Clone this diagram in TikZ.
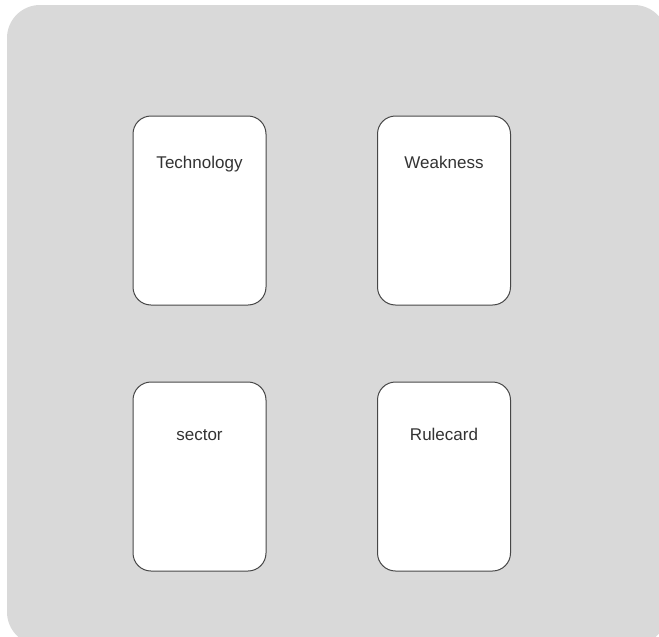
\documentclass[tikz,border=0pt]{standalone}
\usepackage{fontspec}
\setmainfont{Liberation Sans}
\usepackage{tikz}
\usetikzlibrary{positioning}
\definecolor{boardgray}{HTML}{D9D9D9}
\definecolor{edgegray}{HTML}{474747}
\definecolor{textgray}{HTML}{333333}

\begin{document}
\begin{tikzpicture}[x=1pt,y=-1pt,
    card/.style={draw=edgegray, line width=1pt, fill=white, rounded corners=18pt,
      minimum width=133pt, minimum height=189pt, inner sep=0pt},
    cardname/.style={text=textgray, font=\fontsize{17}{20}\selectfont, inner sep=0pt}]
  \useasboundingbox (0,0) rectangle (659,637);
  % board
  \fill[boardgray, rounded corners=33pt] (7,5) rectangle (667,645);
  % cards
  \node[card] (tech) at (199.5,210.5) {};
  \node[card] (weak) at (444,210.5) {};
  \node[card] (sect) at (199.5,476.5) {};
  \node[card] (rule) at (444,476.5) {};
  % card titles
  \node[cardname, below=53pt of tech.north, anchor=base] (techname) {Technology};
  \node[cardname, below=53pt of weak.north, anchor=base] (weakname) {Weakness};
  \node[cardname, below=59pt of sect.north, anchor=base] (sectname) {sector};
  \node[cardname, below=59pt of rule.north, anchor=base] (rulename) {Rulecard};
\end{tikzpicture}
\end{document}
